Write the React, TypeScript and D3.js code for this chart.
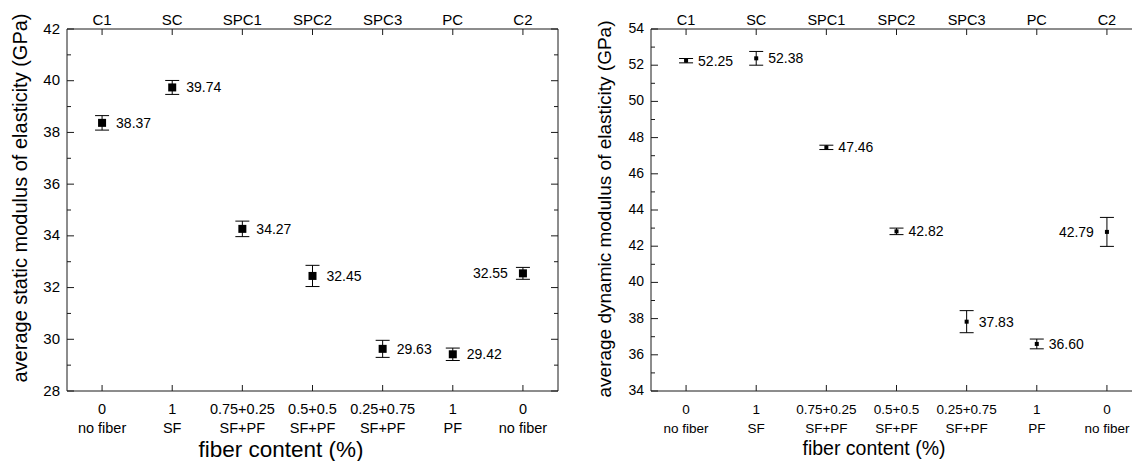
import React from "react";
import * as d3 from "d3";

const categories = ["C1", "SC", "SPC1", "SPC2", "SPC3", "PC", "C2"];
const fiberContent = ["0", "1", "0.75+0.25", "0.5+0.5", "0.25+0.75", "1", "0"];
const fiberType = ["no fiber", "SF", "SF+PF", "SF+PF", "SF+PF", "PF", "no fiber"];
const staticMean = [38.37, 39.74, 34.27, 32.45, 29.63, 29.42, 32.55];
const staticErr = [0.28, 0.27, 0.3, 0.41, 0.33, 0.24, 0.23];
const dynamicMean = [52.25, 52.38, 47.46, 42.82, 37.83, 36.6, 42.79];
const dynamicErr = [0.12, 0.38, 0.12, 0.18, 0.61, 0.27, 0.8];
const staticTicks = [28, 30, 32, 34, 36, 38, 40, 42];
const dynamicTicks = [34, 36, 38, 40, 42, 44, 46, 48, 50, 52, 54];

const FONT = "'Liberation Sans', Arial, Helvetica, sans-serif";
const AX = "#1a1a1a";

type PanelProps = {
  left: number;
  top: number;
  width: number;
  height: number;
  yTicks: number[];
  means: number[];
  errs: number[];
  marker: number;
  labelOffset: number;
  yTitle: string;
  yTitleX: number;
  yTitleY: number;
  xTitleX: number;
  xTitleY: number;
  xTitleSize: number;
  yTitleSize: number;
  tickSize: number;
  topSize: number;
  catSize: number;
  valSize: number;
};

function Panel(p: PanelProps) {
  const x = d3
    .scalePoint<string>()
    .domain(categories)
    .range([p.left, p.left + p.width])
    .padding(0.5);
  const yMin = p.yTicks[0];
  const yMax = p.yTicks[p.yTicks.length - 1];
  const y = d3.scaleLinear().domain([yMin, yMax]).range([p.top + p.height, p.top]);
  const minor = d3.range(yMin + 1, yMax, 2);
  const right = p.left + p.width;
  const bottom = p.top + p.height;
  const cap = 7;
  return (
    <g>
      <line x1={p.left} x2={right} y1={p.top} y2={p.top} stroke={AX} strokeWidth={1} />
      <line x1={p.left} x2={right} y1={bottom} y2={bottom} stroke={AX} strokeWidth={1} />
      <line x1={p.left} x2={p.left} y1={p.top} y2={bottom} stroke={AX} strokeWidth={1} />
      <line x1={right} x2={right} y1={p.top} y2={bottom} stroke={AX} strokeWidth={1} />
      {p.yTicks.map((t) => (
        <g key={"yt" + t}>
          <line x1={p.left} x2={p.left + 7} y1={y(t)} y2={y(t)} stroke={AX} />
          <line x1={right} x2={right - 7} y1={y(t)} y2={y(t)} stroke={AX} />
          <text
            x={p.left - 7}
            y={y(t) - 1}
            textAnchor="end"
            dominantBaseline="central"
            fontSize={p.tickSize}
            fontFamily={FONT}
          >
            {t}
          </text>
        </g>
      ))}
      {minor.map((t) => (
        <g key={"ym" + t}>
          <line x1={p.left} x2={p.left + 4} y1={y(t)} y2={y(t)} stroke={AX} />
          <line x1={right} x2={right - 4} y1={y(t)} y2={y(t)} stroke={AX} />
        </g>
      ))}
      {categories.map((c, i) => (
        <g key={"xc" + c}>
          <line x1={x(c)} x2={x(c)} y1={p.top} y2={p.top + 6} stroke={AX} />
          <line x1={x(c)} x2={x(c)} y1={bottom} y2={bottom - 6} stroke={AX} />
          <text x={x(c)} y={p.top - 4} textAnchor="middle" fontSize={p.topSize} fontFamily={FONT}>
            {c}
          </text>
          <text x={x(c)} y={bottom + 23} textAnchor="middle" fontSize={p.catSize} fontFamily={FONT}>
            {fiberContent[i]}
          </text>
          <text x={x(c)} y={bottom + 42} textAnchor="middle" fontSize={p.catSize} fontFamily={FONT}>
            {fiberType[i]}
          </text>
        </g>
      ))}
      {categories.map((c, i) => {
        const cx = x(c) as number;
        const cy = y(p.means[i]);
        const yt = y(p.means[i] + p.errs[i]);
        const yb = y(p.means[i] - p.errs[i]);
        const last = i === categories.length - 1;
        return (
          <g key={"d" + c}>
            <line x1={cx} x2={cx} y1={yt} y2={yb} stroke="#000" strokeWidth={1} />
            <line x1={cx - cap} x2={cx + cap} y1={yt} y2={yt} stroke="#000" strokeWidth={1} />
            <line x1={cx - cap} x2={cx + cap} y1={yb} y2={yb} stroke="#000" strokeWidth={1} />
            <rect
              x={cx - p.marker / 2}
              y={cy - p.marker / 2}
              width={p.marker}
              height={p.marker}
              fill="#000"
            />
            <text
              x={last ? cx - p.labelOffset - 1 : cx + p.labelOffset}
              y={cy}
              textAnchor={last ? "end" : "start"}
              dominantBaseline="central"
              fontSize={p.valSize}
              fontFamily={FONT}
            >
              {p.means[i].toFixed(2)}
            </text>
          </g>
        );
      })}
      <text
        transform={`translate(${p.yTitleX},${p.yTitleY}) rotate(-90)`}
        textAnchor="middle"
        dominantBaseline="central"
        fontSize={p.yTitleSize}
        fontFamily={FONT}
      >
        {p.yTitle}
      </text>
      <text
        x={p.xTitleX}
        y={p.xTitleY}
        textAnchor="middle"
        fontSize={p.xTitleSize}
        fontFamily={FONT}
      >
        fiber content (%)
      </text>
    </g>
  );
}

export default function App() {
  return (
    <svg
      width={1132}
      height={461}
      style={{ position: "absolute", left: 0, top: 0, background: "#fff" }}
    >
      <rect x={0} y={0} width={1132} height={461} fill="#fff" />
      <Panel
        left={67}
        top={29}
        width={491}
        height={362}
        yTicks={staticTicks}
        means={staticMean}
        errs={staticErr}
        marker={8}
        labelOffset={14}
        yTitle="average static modulus of elasticity (GPa)"
        yTitleX={20}
        yTitleY={198}
        xTitleX={281}
        xTitleY={457}
        xTitleSize={22.5}
        yTitleSize={20}
        tickSize={15}
        topSize={15}
        catSize={14.5}
        valSize={14}
      />
      <Panel
        left={651}
        top={29}
        width={491}
        height={362}
        yTicks={dynamicTicks}
        means={dynamicMean}
        errs={dynamicErr}
        marker={4}
        labelOffset={12}
        yTitle="average dynamic modulus of elasticity (GPa)"
        yTitleX={604}
        yTitleY={209}
        xTitleX={874}
        xTitleY={455}
        xTitleSize={19.5}
        yTitleSize={19}
        tickSize={14}
        topSize={14.5}
        catSize={13.5}
        valSize={14}
      />
    </svg>
  );
}
